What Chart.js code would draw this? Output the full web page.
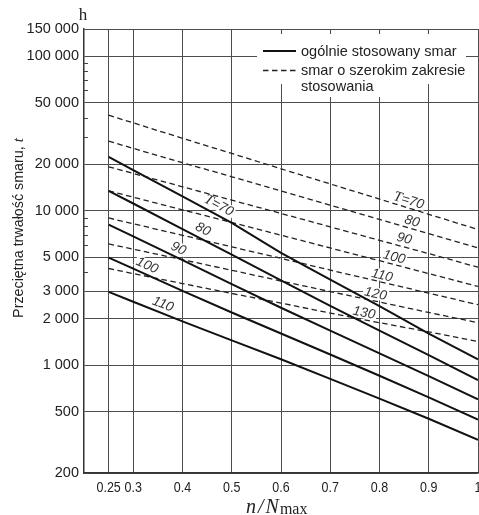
<!DOCTYPE html>
<html><head><meta charset="utf-8">
<script src="https://cdn.jsdelivr.net/npm/chart.js@4.4.1/dist/chart.umd.min.js"></script>
<style>html,body{margin:0;padding:0;background:#fff;overflow:hidden}canvas{display:block}</style>
</head><body><canvas id="c" width="479" height="515"></canvas>
<script>
// ---- data ----
const xValues = [0.25, 0.3, 0.4, 0.5, 0.6, 0.7, 0.8, 0.9, 1.0];
// general-purpose grease (solid lines), T = 70..110
const solidT70  = [22300, 18300, 12350, 8320, 5330, 3580, 2410, 1600, 1090];
const solidT80  = [13430, 11120, 7600, 5190, 3530, 2420, 1670, 1160, 800];
const solidT90  = [8120, 6810, 4780, 3340, 2350, 1670, 1190, 847, 599];
const solidT100 = [4960, 4210, 3020, 2190, 1600, 1170, 853, 617, 443];
const solidT110 = [2980, 2570, 1920, 1445, 1090, 813, 606, 449, 328];
// wide-temperature-range grease (dashed lines), T = 70..130
const dashT70  = [41500, 37000, 29400, 23450, 18660, 14890, 11880, 9470, 7540];
const dashT80  = [28150, 25300, 20450, 16560, 13420, 10840, 8780, 7100, 5740];
const dashT90  = [19220, 17410, 14270, 11690, 9590, 7850, 6420, 5270, 4300];
const dashT100 = [13430, 12220, 10120, 8380, 6930, 5730, 4740, 3910, 3230];
const dashT110 = [8960, 8220, 6920, 5830, 4910, 4120, 3470, 2920, 2460];
const dashT120 = [6090, 5630, 4810, 4110, 3500, 2990, 2560, 2190, 1880];
const dashT130 = [4220, 3910, 3370, 2910, 2520, 2170, 1880, 1640, 1420];
const xTicks = [0.25, 0.3, 0.4, 0.5, 0.6, 0.7, 0.8, 0.9, 1];
const yTicks = [200, 500, 1000, 2000, 3000, 5000, 10000, 20000, 50000, 100000, 150000];
const yMinorTicks = [4000, 6000, 7000, 8000, 9000, 30000, 40000, 60000, 70000, 80000, 90000];
const legendLabels = ['ogólnie stosowany smar', 'smar o szerokim zakresie', 'stosowania'];
const yTitle = 'Przeciętna trwałość smaru, ';
const yTitleVar = 't';
const yUnit = 'h';

// ---- styling ----
const SANS = "'Liberation Sans',Arial,Helvetica,sans-serif";
const SERIF = "'Liberation Serif','Times New Roman',serif";
const INK = '#111';
const TEXT = '#222';
const GRID = '#4d4d4d';

const solidSeries = [solidT70, solidT80, solidT90, solidT100, solidT110];
const dashSeries = [dashT70, dashT80, dashT90, dashT100, dashT110, dashT120, dashT130];
const toPts = arr => arr.map((v, i) => ({x: xValues[i], y: v}));
const datasets = [];
solidSeries.forEach(s => datasets.push({data: toPts(s), borderColor: INK, borderWidth: 2, pointRadius: 0, fill: false, tension: 0}));
dashSeries.forEach(s => datasets.push({data: toPts(s), borderColor: '#222', borderWidth: 1.3, borderDash: [5.5, 3.5], pointRadius: 0, fill: false, tension: 0}));

// curve labels: which series, where along x, text
const curveLabels = [
  {series: solidT70, at: 0.465, t: true, text: '=70', off: 9.5},
  {series: solidT80, at: 0.433, text: '80', off: 9.5},
  {series: solidT90, at: 0.384, text: '90', off: 9},
  {series: solidT100, at: 0.321, text: '100', off: 9},
  {series: solidT110, at: 0.354, text: '110', off: 9},
  {series: dashT70, at: 0.855, t: true, text: '=70', off: 7.5},
  {series: dashT80, at: 0.862, text: '80', off: 7.5},
  {series: dashT90, at: 0.846, text: '90', off: 8.5},
  {series: dashT100, at: 0.826, text: '100', off: 7.5},
  {series: dashT110, at: 0.802, text: '110', off: 7},
  {series: dashT120, at: 0.789, text: '120', off: 7.5},
  {series: dashT130, at: 0.766, text: '130', off: 7}
];

function labelGeom(chart, lab) {
  const xs = chart.scales.x, ys = chart.scales.y;
  let i = 0;
  while (i < xValues.length - 2 && lab.at > xValues[i + 1]) i++;
  const x1 = xs.getPixelForValue(xValues[i]), y1 = ys.getPixelForValue(lab.series[i]);
  const x2 = xs.getPixelForValue(xValues[i + 1]), y2 = ys.getPixelForValue(lab.series[i + 1]);
  const px = xs.getPixelForValue(lab.at);
  const t = (px - x1) / (x2 - x1);
  return {x: px, y: y1 + t * (y2 - y1), a: Math.atan2(y2 - y1, x2 - x1)};
}
const LABEL_FONT = "italic 13.5px " + SANS;
const LABEL_T_FONT = "italic 14.5px " + SERIF;
function labelWidth(ctx, lab) {
  ctx.font = LABEL_FONT;
  let w = ctx.measureText(lab.text).width;
  let wt = 0;
  if (lab.t) { ctx.font = LABEL_T_FONT; wt = ctx.measureText('T').width; }
  return {w: w + wt, wt};
}

const curveLabelPlugin = {
  id: 'curveLabels',
  beforeDatasetsDraw(chart) {
    const ctx = chart.ctx;
    curveLabels.forEach(lab => {
      const g = labelGeom(chart, lab);
      const m = labelWidth(ctx, lab);
      ctx.save();
      ctx.translate(g.x, g.y); ctx.rotate(g.a); ctx.translate(0, -lab.off);
      ctx.fillStyle = '#fff';
      ctx.fillRect(-m.w / 2 - 1.5, -6, m.w + 3, 12);
      ctx.restore();
    });
  },
  afterDatasetsDraw(chart) {
    const ctx = chart.ctx;
    curveLabels.forEach(lab => {
      const g = labelGeom(chart, lab);
      const m = labelWidth(ctx, lab);
      ctx.save();
      ctx.translate(g.x, g.y); ctx.rotate(g.a); ctx.translate(0, -lab.off);
      ctx.fillStyle = '#333';
      ctx.textBaseline = 'middle';
      ctx.textAlign = 'left';
      let sx = -m.w / 2;
      if (lab.t) { ctx.font = LABEL_T_FONT; ctx.fillText('T', sx, 0.5); sx += m.wt; }
      ctx.font = LABEL_FONT;
      ctx.fillText(lab.text, sx, 0.5);
      ctx.restore();
    });
  }
};

const decorPlugin = {
  id: 'decor',
  afterDatasetsDraw(chart) {
    const ctx = chart.ctx, ca = chart.chartArea, ys = chart.scales.y, xs = chart.scales.x;
    // minor ticks on y axis (inside)
    ctx.save();
    ctx.strokeStyle = '#444'; ctx.lineWidth = 1;
    yMinorTicks.forEach(v => {
      const y = Math.round(ys.getPixelForValue(v)) + 0.5;
      ctx.beginPath(); ctx.moveTo(ca.left, y); ctx.lineTo(ca.left + 4, y); ctx.stroke();
    });
    ctx.restore();
    // x tick labels (narrow)
    ctx.save();
    ctx.fillStyle = TEXT;
    ctx.font = '14.5px ' + SANS;
    ctx.textAlign = 'center';
    ctx.textBaseline = 'alphabetic';
    xTicks.forEach(v => {
      const px = xs.getPixelForValue(v);
      ctx.save();
      ctx.translate(px, 491.5);
      ctx.scale(0.86, 1);
      ctx.fillText(String(v), 0, 0);
      ctx.restore();
    });
    ctx.restore();
    // legend
    ctx.save();
    ctx.fillStyle = '#fff';
    ctx.fillRect(257, 34, 209, 50);
    ctx.fillRect(298, 80, 88, 17);
    ctx.strokeStyle = INK; ctx.lineWidth = 2;
    ctx.beginPath(); ctx.moveTo(263, 51); ctx.lineTo(296, 51); ctx.stroke();
    ctx.strokeStyle = '#222'; ctx.lineWidth = 1.3; ctx.setLineDash([5.5, 3.5]);
    ctx.beginPath(); ctx.moveTo(263, 70.5); ctx.lineTo(296, 70.5); ctx.stroke();
    ctx.setLineDash([]);
    ctx.fillStyle = TEXT;
    ctx.font = '14.5px ' + SANS;
    ctx.textBaseline = 'alphabetic';
    ctx.fillText(legendLabels[0], 301, 55.5);
    ctx.fillText(legendLabels[1], 301, 74.5);
    ctx.fillText(legendLabels[2], 301, 90.5);
    ctx.restore();
  },
  afterDraw(chart) {
    const ctx = chart.ctx;
    ctx.save();
    ctx.fillStyle = TEXT;
    // y title
    ctx.translate(22.5, 228);
    ctx.rotate(-Math.PI / 2);
    ctx.font = '14.3px ' + SANS;
    const w1 = ctx.measureText(yTitle).width;
    ctx.font = 'italic 15px ' + SERIF;
    const w2 = ctx.measureText(yTitleVar).width;
    let sx = -(w1 + w2) / 2;
    ctx.font = '14.3px ' + SANS;
    ctx.fillText(yTitle, sx, 0);
    ctx.font = 'italic 15px ' + SERIF;
    ctx.fillText(yTitleVar, sx + w1, 0);
    ctx.restore();
    // unit
    ctx.save();
    ctx.fillStyle = TEXT;
    ctx.font = '17px ' + SERIF;
    ctx.textAlign = 'center';
    ctx.fillText(yUnit, 83, 20);
    // x title n/Nmax
    ctx.textAlign = 'left';
    ctx.font = 'italic 20px ' + SERIF;
    const parts = ['n', '/', 'N'];
    let x = 246;
    parts.forEach(p => { ctx.fillText(p, x, 513); x += ctx.measureText(p).width + 2; });
    ctx.font = '16px ' + SERIF;
    ctx.fillText('max', x - 1, 514);
    ctx.restore();
  }
};

const fmt = v => String(v).replace(/\B(?=(\d{3})+(?!\d))/g, ' ');

new Chart(document.getElementById('c'), {
  type: 'line',
  data: {datasets},
  options: {
    responsive: false,
    animation: false,
    events: [],
    layout: {padding: {top: 29, right: 1, left: 0, bottom: 0}},
    plugins: {legend: {display: false}, tooltip: {enabled: false}},
    scales: {
      x: {
        type: 'linear', min: 0.2, max: 1,
        afterBuildTicks: s => { s.ticks = xTicks.map(v => ({value: v})); },
        afterFit: s => { s.height = 42; s.paddingLeft = 0; s.paddingRight = 0; },
        ticks: {display: false},
        grid: {color: GRID, lineWidth: 1, drawTicks: false},
        border: {color: '#333', width: 1.5}
      },
      y: {
        type: 'logarithmic', min: 200, max: 150000,
        afterBuildTicks: s => { s.ticks = yTicks.map(v => ({value: v})); },
        afterFit: s => { s.width = 84; s.paddingTop = 0; s.paddingBottom = 0; },
        ticks: {callback: v => fmt(v), font: {family: SANS, size: 14.5}, color: TEXT, padding: 5, autoSkip: false},
        grid: {color: GRID, lineWidth: 1, drawTicks: false},
        border: {color: '#333', width: 1.5}
      }
    }
  },
  plugins: [curveLabelPlugin, decorPlugin]
});
</script>
</body></html>
